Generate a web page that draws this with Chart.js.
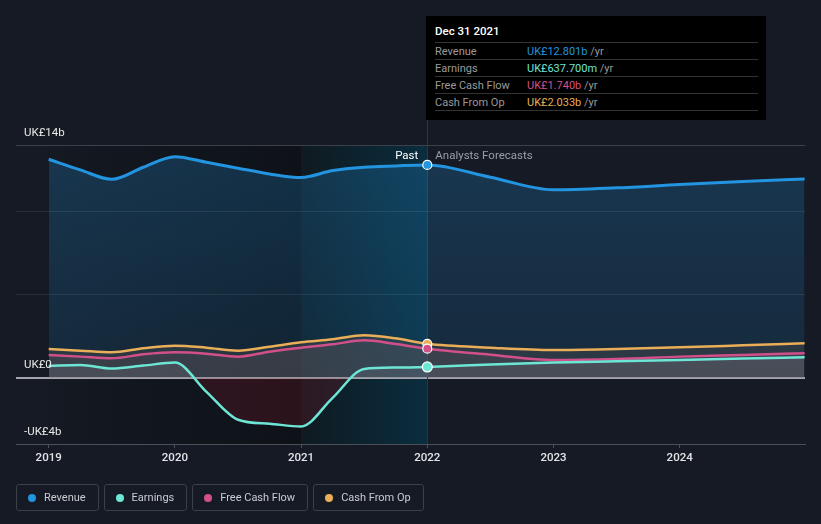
<!DOCTYPE html>
<html>
<head>
<meta charset="utf-8">
<script src="https://cdn.jsdelivr.net/npm/chart.js@4.4.1/dist/chart.umd.min.js"></script>
<style>
  html, body { margin: 0; padding: 0; background: #151a24; }
  body { width: 821px; height: 524px; position: relative; overflow: hidden; font-family: Roboto, "Noto Sans", sans-serif; }
  #c { position: absolute; left: 0; top: 0; }
  .tip { position: absolute; left: 426px; top: 16px; width: 340px; height: 104px; background: #000; font-size: 11px; }
  .tip .ttl { position: absolute; left: 9px; top: 8px; color: #fff; font-weight: 500; font-size: 11.5px; }
  .tip .row { position: absolute; left: 9px; width: 323px; height: 17px; border-top: 1px solid #333; color: #9a9a9a; line-height: 17px; }
  .tip .row span.v { position: absolute; left: 92px; }
  .tip .row span.u { color: #9a9a9a; }
  .tip .last { position: absolute; left: 9px; top: 94px; width: 323px; border-top: 1px solid #333; }
  .legend { position: absolute; top: 484px; left: 16px; display: flex; gap: 5px; }
  .legend div { height: 25px; border: 1px solid #3a3f49; border-radius: 3px; color: #c9ccd1; font-size: 11px; line-height: 25px; padding: 0 12px 0 27px; position: relative; box-sizing: content-box; }
  .legend i { position: absolute; left: 11px; top: 8.5px; width: 8px; height: 8px; border-radius: 50%; }
</style>
</head>
<body>
<canvas id="c" width="821" height="524"></canvas>
<div class="tip" id="tip"></div>
<div class="legend" id="legend"></div>
<script>
// time points (decimal years); past is quarterly, forecasts half-yearly
const dates = [2019, 2019.25, 2019.5, 2019.75, 2020, 2020.25, 2020.5, 2020.75, 2021, 2021.25, 2021.5, 2021.75, 2022,
               2022.5, 2023, 2023.5, 2024, 2024.5, 2024.99];
// values in UK£ billions
const revenue   = [13.14, 12.50, 11.94, 12.66, 13.30, 12.96, 12.60, 12.26, 12.04, 12.46, 12.66, 12.74, 12.80,
                   12.06, 11.30, 11.42, 11.62, 11.80, 11.96];
const earnings  = [0.70, 0.76, 0.54, 0.72, 0.90, -0.86, -2.54, -2.78, -2.94, -1.22, 0.52, 0.60, 0.64,
                   0.78, 0.90, 0.98, 1.06, 1.14, 1.22];
const fcf       = [1.36, 1.26, 1.16, 1.40, 1.52, 1.44, 1.26, 1.56, 1.80, 2.00, 2.24, 2.02, 1.74,
                   1.38, 1.06, 1.12, 1.26, 1.36, 1.46];
const cashFromOp = [1.72, 1.62, 1.52, 1.76, 1.92, 1.80, 1.62, 1.86, 2.12, 2.30, 2.54, 2.36, 2.03,
                   1.80, 1.66, 1.72, 1.82, 1.94, 2.06];

const seriesNames = ['Revenue', 'Earnings', 'Free Cash Flow', 'Cash From Op'];
const seriesColors = ['#2394df', '#6ee6d5', '#d2508a', '#e9ae57'];
const xTicks = [2019, 2020, 2021, 2022, 2023, 2024];
const yGrid = [-4, 0, 5, 10, 14];
const yTickLabels = { '14': 'UK£14b', '0': 'UK£0', '-4': '-UK£4b' };

const nowX = 2022;     // split between past and forecasts
const pastStart = 2019, highlightStart = 2021;

const tipTitle = 'Dec 31 2021';
const tipValues = ['UK£12.801b', 'UK£637.700m', 'UK£1.740b', 'UK£2.033b'];

const pts = arr => arr.map((v, i) => ({ x: dates[i], y: v }));
const dot = c => (c.raw && c.raw.x === nowX) ? 4.5 : 0;

// tooltip box
const tip = document.getElementById('tip');
let html = '<div class="ttl">' + tipTitle + '</div>';
seriesNames.forEach((n, i) => {
  html += '<div class="row" style="top:' + (26 + i * 17) + 'px">' + n +
    '<span class="v"><span style="color:' + seriesColors[i] + '">' + tipValues[i] + '</span> <span class="u">/yr</span></span></div>';
});
html += '<div class="last"></div>';
tip.innerHTML = html;

// legend
document.getElementById('legend').innerHTML = seriesNames.map((n, i) =>
  '<div><i style="background:' + seriesColors[i] + '"></i>' + n + '</div>').join('');

const bgPlugin = {
  id: 'bands',
  beforeDraw(chart) {
    const { ctx, chartArea: a, scales: { x } } = chart;
    const x0 = x.getPixelForValue(pastStart), x1 = x.getPixelForValue(highlightStart), x2 = x.getPixelForValue(nowX);
    ctx.save();
    let g = ctx.createLinearGradient(x0, 0, x1, 0);
    g.addColorStop(0, '#141922');
    g.addColorStop(1, '#0e1218');
    ctx.fillStyle = g;
    ctx.fillRect(x0, a.top, x1 - x0, a.bottom - a.top);
    g = ctx.createLinearGradient(x1, 0, x2, 0);
    g.addColorStop(0, '#0f1a21');
    g.addColorStop(1, '#0a2d3e');
    ctx.fillStyle = g;
    ctx.fillRect(x1, a.top, x2 - x1, a.bottom - a.top);
    ctx.restore();
  },
  beforeDatasetsDraw(chart) {
    const { ctx, chartArea: a, scales: { x } } = chart;
    const xn = Math.round(x.getPixelForValue(nowX)) + 0.5;
    ctx.save();
    ctx.strokeStyle = '#1f3c4c';
    ctx.lineWidth = 1;
    ctx.beginPath();
    ctx.moveTo(xn, 118);
    ctx.lineTo(xn, a.bottom);
    ctx.stroke();
    ctx.restore();
  },
  afterDatasetsDraw(chart) {
    const { ctx, chartArea: a, scales: { x, y } } = chart;
    const xn = x.getPixelForValue(nowX);
    ctx.save();
    ctx.font = '11.5px Roboto, sans-serif';
    ctx.textBaseline = 'middle';
    ctx.fillStyle = '#ffffff';
    ctx.textAlign = 'right';
    ctx.fillText('Past', xn - 9, a.top + 11);
    ctx.fillStyle = '#9a9fa6';
    ctx.textAlign = 'left';
    ctx.fillText('Analysts Forecasts', xn + 8, a.top + 11);
    ctx.font = '11.5px Roboto, sans-serif';
    ctx.fillStyle = '#e8e8e8';
    Object.keys(yTickLabels).forEach(k => {
      ctx.fillText(yTickLabels[k], a.left + 8, y.getPixelForValue(+k) - 12);
    });
    ctx.restore();
  }
};

const ctx = document.getElementById('c').getContext('2d');
const revFill = ctx.createLinearGradient(0, 150, 0, 377);
revFill.addColorStop(0, 'rgba(35,148,223,0.24)');
revFill.addColorStop(1, 'rgba(35,148,223,0.13)');

const line = (label, data, color, fill, extra) => Object.assign({
  label, data: pts(data), borderColor: color, backgroundColor: color,
  borderWidth: 2.5, fill, pointRadius: dot, pointHoverRadius: 0,
  pointBackgroundColor: color, pointBorderColor: '#ffffff', pointBorderWidth: 1.2,
  cubicInterpolationMode: 'monotone'
}, extra || {});

new Chart(ctx, {
  type: 'line',
  data: {
    datasets: [
      line('Earnings', earnings, seriesColors[1], { target: 'origin', above: 'rgba(150,150,160,0.16)', below: 'rgba(150,25,40,0.22)' }, { pointRadius: c => (c.raw && c.raw.x === nowX) ? 5 : 0 }),
      line('Free Cash Flow', fcf, seriesColors[2], { target: 'origin', above: 'rgba(140,110,125,0.14)', below: 'rgba(0,0,0,0)' }),
      line('Cash From Op', cashFromOp, seriesColors[3], { target: 'origin', above: 'rgba(85,82,80,0.35)', below: 'rgba(0,0,0,0)' }),
      line('Revenue', revenue, seriesColors[0], { target: 'origin', above: revFill, below: 'rgba(0,0,0,0)' }, { borderWidth: 3 })
    ]
  },
  options: {
    responsive: false,
    animation: false,
    events: [],
    layout: { padding: { left: 16, right: 16, top: 145, bottom: 0 } },
    plugins: { legend: { display: false }, tooltip: { enabled: false } },
    scales: {
      x: {
        type: 'linear',
        min: 2018.741,
        max: 2024.993,
        afterBuildTicks: s => { s.ticks = xTicks.map(v => ({ value: v })); },
        afterFit: s => { s.height = 80; },
        ticks: { color: '#e2e4e8', font: { family: 'Roboto', size: 11.5, weight: '500' }, padding: 3, callback: v => String(v) },
        grid: { drawOnChartArea: false, drawTicks: true, tickLength: 4, color: '#4a4f58' },
        border: { color: '#4a4f58', width: 1 }
      },
      y: {
        min: -4,
        max: 14,
        afterBuildTicks: s => { s.ticks = yGrid.map(v => ({ value: v })); },
        afterFit: s => { s.width = 0; },
        ticks: { display: false },
        grid: {
          drawTicks: false,
          color: c => c.tick.value === 0 ? '#a3a7ad' : (c.tick.value === 14 ? '#3c4149' : (c.tick.value === -4 ? '#4a4f58' : 'rgba(255,255,255,0.09)')),
          lineWidth: c => c.tick.value === 0 ? 2 : 1
        },
        border: { display: false }
      }
    }
  },
  plugins: [bgPlugin]
});
</script>
</body>
</html>
